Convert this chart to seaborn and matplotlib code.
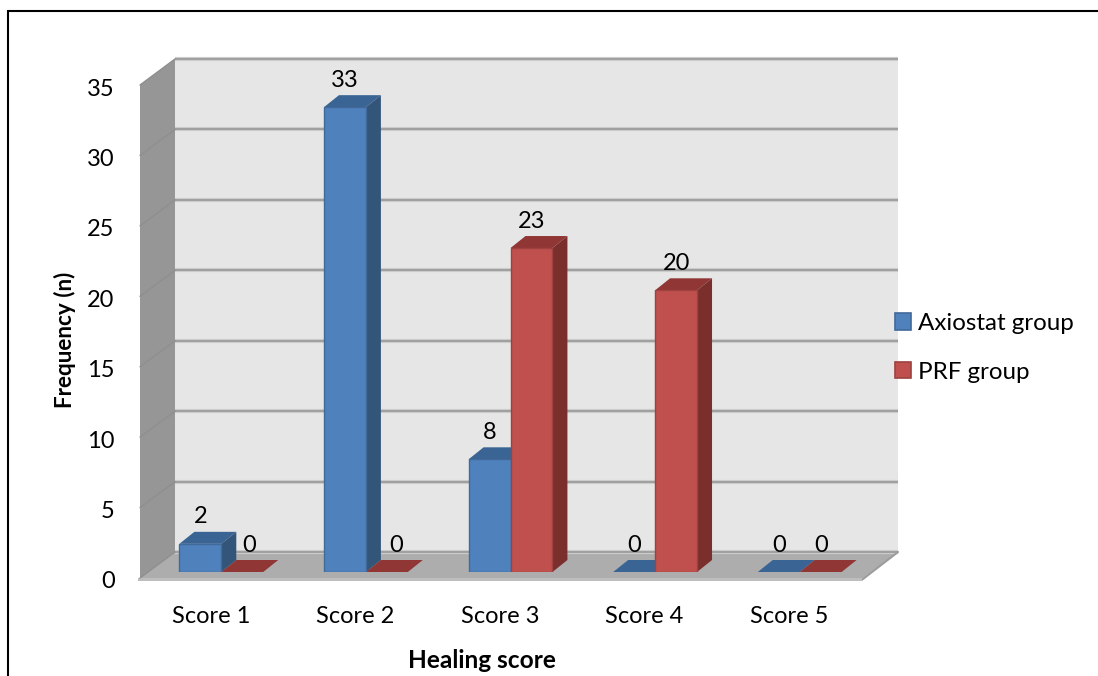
import matplotlib
matplotlib.use("Agg")
import matplotlib.pyplot as plt
import pandas as pd
import seaborn as sns
from matplotlib.patches import Patch, Polygon
from matplotlib.transforms import IdentityTransform, ScaledTranslation

categories = ["Score 1", "Score 2", "Score 3", "Score 4", "Score 5"]
axiostat_values = [2, 33, 8, 0, 0]
prf_values = [0, 0, 23, 20, 0]
series_names = ["Axiostat group", "PRF group"]
y_ticks = [0, 5, 10, 15, 20, 25, 30, 35]

W, H = 1098, 676
FRONT_L, FRONT_R, FRONT_B, FRONT_T = 140, 863, 578, 85
WALL_DX, WALL_DY = 35, 26
BAR_SHIFT_X, BAR_SHIFT_Y = 9, 6
BAR_DX, BAR_DY = 15, 12
FONT_SIZE = 17

FRONT_COLORS = {"Axiostat group": "#4f81bd", "PRF group": "#c0504d"}
EDGE_COLORS = {"Axiostat group": "#41699a", "PRF group": "#9d4240"}
TOP_COLORS = {"Axiostat group": "#3a6494", "PRF group": "#903735"}
SIDE_COLORS = {"Axiostat group": "#335579", "PRF group": "#7a2f2d"}

sns.set_theme(style="white")
plt.rcParams["font.family"] = ["Lato", "DejaVu Sans"]

df = pd.DataFrame({
    "category": categories * 2,
    "group": [series_names[0]] * 5 + [series_names[1]] * 5,
    "value": axiostat_values + prf_values,
})

fig = plt.figure(figsize=(W / 100, H / 100), dpi=100, facecolor="white")


def rect(left, right, bottom, top):
    return [left / W, 1 - bottom / H, (right - left) / W, (bottom - top) / H]


# Pixel-space backdrop: page frame, walls, floor and gridlines.
bg = fig.add_axes([0, 0, 1, 1], zorder=0)
bg.set_xlim(0, W)
bg.set_ylim(H, 0)
bg.axis("off")
bg.plot([7.5, 7.5, W], [H, 10.5, 10.5], color="black", lw=1.5, solid_joinstyle="miter")

back_l, back_r = FRONT_L + WALL_DX, FRONT_R + WALL_DX
back_b, back_t = FRONT_B - WALL_DY, FRONT_T - WALL_DY
bg.add_patch(Polygon([(back_l, back_t), (back_r, back_t), (back_r, back_b), (back_l, back_b)],
                     fc="#e6e6e6", ec="none"))
bg.add_patch(Polygon([(FRONT_L, FRONT_T), (back_l, back_t), (back_l, back_b), (FRONT_L, FRONT_B)],
                     fc="#969696", ec="none"))
bg.add_patch(Polygon([(FRONT_L, FRONT_B), (back_l, back_b), (back_r, back_b), (FRONT_R, FRONT_B)],
                     fc="#adadad", ec="none"))
bg.add_patch(Polygon([(FRONT_L - 2, FRONT_B), (FRONT_R, FRONT_B), (FRONT_R, FRONT_B + 3), (FRONT_L - 2, FRONT_B + 3)],
                     fc="#bdbdbd", ec="none"))
px_per_unit = (FRONT_B - FRONT_T) / y_ticks[-1]
for v in y_ticks:
    y_front = FRONT_B - v * px_per_unit
    y_back = y_front - WALL_DY
    bg.plot([back_l, back_r], [y_back, y_back], color="#d2d2d2", lw=3.0, solid_capstyle="butt")
    bg.plot([back_l, back_r], [y_back, y_back], color="#a0a0a0", lw=1.6, solid_capstyle="butt")
    bg.plot([FRONT_L, back_l], [y_front, y_back], color="#8f8f8f", lw=1.0)
bg.plot([FRONT_R, back_r], [FRONT_B + 1, back_b], color="#9c9c9c", lw=1.5)

# Axis frame carrying the scales and tick labels.
ax = fig.add_axes(rect(FRONT_L, FRONT_R, FRONT_B, FRONT_T), zorder=1)
ax.patch.set_alpha(0)
ax.set_xlim(-0.5, 4.5)
ax.set_ylim(0, y_ticks[-1])
ax.set_yticks(y_ticks)
ax.set_xticks(range(len(categories)))
ax.set_xticklabels(categories)
for side in ax.spines.values():
    side.set_visible(False)
ax.tick_params(axis="y", length=7.2, width=1.2, color="#8c8c8c", labelsize=FONT_SIZE, labelcolor="black", pad=11)
ax.tick_params(axis="x", length=0, labelsize=FONT_SIZE, labelcolor="black", pad=20)
for label in ax.get_yticklabels():
    label.set_transform(label.get_transform() + ScaledTranslation(0, -2 / 100, fig.dpi_scale_trans))
for label in ax.get_xticklabels():
    label.set_transform(label.get_transform() + ScaledTranslation(-1.5 / 100, 0, fig.dpi_scale_trans))
ax.set_xlabel("Healing score", fontweight="bold", fontsize=17.6, color="black", va="center")
ax.set_ylabel("Frequency (n)", fontweight="bold", fontsize=16.2, color="black", va="center")
ax.xaxis.set_label_coords((482 - FRONT_L) / (FRONT_R - FRONT_L), (FRONT_B - 661) / (FRONT_B - FRONT_T))
ax.yaxis.set_label_coords((65 - FRONT_L) / (FRONT_R - FRONT_L), (FRONT_B - 340) / (FRONT_B - FRONT_T))

# Bars sit partway into the floor, so their axes is nudged up and to the right.
bar_ax = fig.add_axes(rect(FRONT_L + BAR_SHIFT_X, FRONT_R + BAR_SHIFT_X,
                           FRONT_B - BAR_SHIFT_Y, FRONT_T - BAR_SHIFT_Y), zorder=2)
bar_ax.patch.set_alpha(0)
sns.barplot(data=df, x="category", y="value", hue="group", order=categories,
            hue_order=series_names, palette=FRONT_COLORS, width=0.58, gap=0,
            saturation=1, ax=bar_ax, legend=False)
bar_ax.set_xlim(-0.5, 4.5)
bar_ax.set_ylim(0, y_ticks[-1])
bar_ax.axis("off")

fig.canvas.draw()
label_nudges = {("Score 1", series_names[1]): 7, ("Score 2", series_names[1]): 9}
bar_keys = [(c, g) for g in series_names for c in categories]
values = axiostat_values + prf_values
for patch, (cat, group), val in zip(list(bar_ax.patches), bar_keys, values):
    patch.set_edgecolor(EDGE_COLORS[group])
    patch.set_linewidth(1.0 if val else 0)
    patch.set_zorder(3)
    x0, x1 = patch.get_x(), patch.get_x() + patch.get_width()
    (dx0, dy0), (dx1, dy1) = bar_ax.transData.transform([(x0, 0), (x1, val)])
    top = [(dx0, dy1), (dx1, dy1), (dx1 + BAR_DX, dy1 + BAR_DY), (dx0 + BAR_DX, dy1 + BAR_DY)]
    side = [(dx1, dy0), (dx1 + BAR_DX, dy0 + BAR_DY), (dx1 + BAR_DX, dy1 + BAR_DY), (dx1, dy1)]
    bar_ax.add_patch(Polygon(top, fc=TOP_COLORS[group], ec="none", transform=IdentityTransform(), zorder=2))
    bar_ax.add_patch(Polygon(side, fc=SIDE_COLORS[group], ec="none", transform=IdentityTransform(), zorder=2))
    bar_ax.annotate(str(val), xy=((x0 + x1) / 2, val),
                    xytext=(label_nudges.get((cat, group), 0) * 0.72, 27 * 0.72),
                    textcoords="offset points", ha="center", va="center",
                    fontsize=FONT_SIZE, color="black", annotation_clip=False, zorder=5)

# Legend swatches and names.
handles = [Patch(fc=FRONT_COLORS[n], ec=EDGE_COLORS[n], lw=1.2) for n in series_names]
fig.legend(handles, series_names, loc="upper left", bbox_to_anchor=(895 / W, 1 - 313 / H),
           frameon=False, fontsize=17.4, handlelength=0.66, handleheight=0.66,
           handletextpad=0.3, labelspacing=1.15, labelcolor="black", borderpad=0, borderaxespad=0)

fig.savefig("out.png", dpi=100)
